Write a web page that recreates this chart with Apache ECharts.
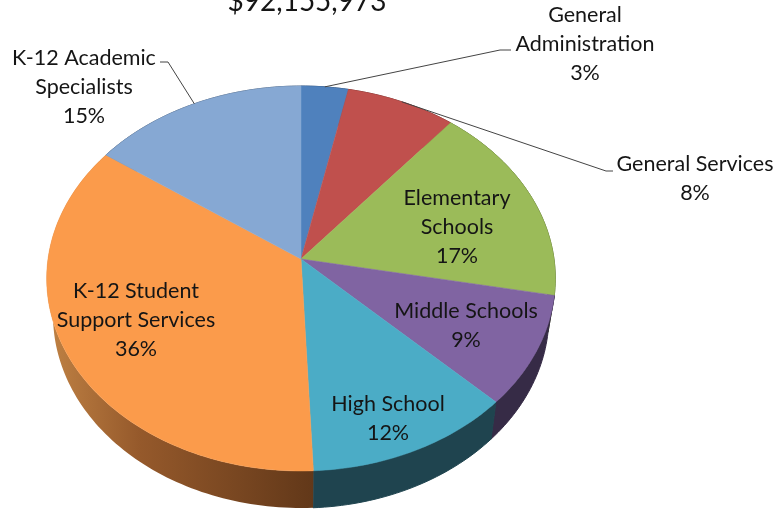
<!DOCTYPE html>
<html>
<head>
<meta charset="utf-8">
<style>html,body{margin:0;padding:0;background:#fff}#c{width:779px;height:510px}</style>
<script src="https://cdn.jsdelivr.net/npm/echarts@6/dist/echarts.min.js"></script>
</head>
<body>
<div id="c"></div>
<script>
// Data
var titleText = '$92,155,973';
var categories = ['General\nAdministration', 'General Services', 'Elementary\nSchools', 'Middle Schools', 'High School', 'K-12 Student\nSupport Services', 'K-12 Academic\nSpecialists'];
var shares = [3.3, 7.7, 17, 9.3, 12, 35.5, 15.2];
var shownPercents = ['3%', '8%', '17%', '9%', '12%', '36%', '15%'];

// Styling and layout (separate from data)
var topColors = ['#4f81bd', '#c0504d', '#9bbb59', '#8064a2', '#4bacc6', '#fb9b4b', '#86a8d3'];
var wallColors = ['#2f4c71', '#73302e', '#5d7035', '#362b46', '#1f444f', null, '#50647e'];
var labelCentres = [[585, 15], [695, 164], [457, 198], [466, 311], [388, 404], [136, 291], [84, 58]];
var leaderEnds = {0: [[500, 50], [511, 50]], 1: [[606, 171], [613, 171]], 6: [[168, 62], [160, 62]]};
var APEX = [301, 259], RX = 253, RY = 190.5, K = 0.1013;
var WALL_SCALE = 0.975, WALL_DROP = 37;

var total = shares.reduce(function (a, b) { return a + b; }, 0);
var startShare = [];
shares.reduce(function (acc, v, i) { startShare[i] = acc; return acc + v; }, 0);

function rimPoint(share, scale, drop) {
  var t = share / total * 2 * Math.PI;
  var d = 1 + K * Math.cos(t);
  return [APEX[0] + scale * RX * Math.sin(t) / d, APEX[1] - RY * Math.cos(t) / d + drop];
}
function arc(from, to, scale, drop) {
  var pts = [], n = Math.max(4, Math.ceil((to - from) * 3));
  for (var i = 0; i <= n; i++) pts.push(rimPoint(from + (to - from) * i / n, scale, drop));
  return pts;
}

var dataRows = shares.map(function (v, i) { return { value: [i, v], name: categories[i] }; });
var xAxisHidden = { type: 'value', show: false, min: 0, max: 779 };
var yAxisHidden = { type: 'value', show: false, min: 0, max: 510 };

function renderWall(params, api) {
  var i = api.value(0), from = startShare[i], to = from + api.value(1);
  var pts = arc(from, to, 1, 0).concat(arc(from, to, WALL_SCALE, WALL_DROP).reverse());
  var fill = wallColors[i] || {
    type: 'linear', x: 0, y: 0, x2: 1, y2: 0,
    colorStops: [{ offset: 0, color: '#c08244' }, { offset: 0.35, color: '#95592b' }, { offset: 1, color: '#623819' }]
  };
  return { type: 'polygon', shape: { points: pts }, style: { fill: fill, stroke: fill === wallColors[i] ? fill : null } };
}
function renderTop(params, api) {
  var i = api.value(0), from = startShare[i], to = from + api.value(1);
  var pts = [APEX].concat(arc(from, to, 1, 0));
  return { type: 'polygon', shape: { points: pts }, style: { fill: topColors[i], stroke: topColors[i], lineWidth: 0.5 } };
}
function renderLabel(params, api) {
  var i = api.value(0), children = [];
  var c = labelCentres[i];
  var lines = categories[i].split('\n').concat(shownPercents[i]);
  lines.forEach(function (line, n) {
    children.push({
      type: 'text',
      style: { text: line, x: c[0], y: c[1] + n * 29, align: 'center', verticalAlign: 'middle', font: '21.5px Lato, "Noto Sans", sans-serif', fill: '#151515' }
    });
  });
  if (leaderEnds[i]) {
    var anchor = rimPoint(startShare[i] + api.value(1) / 2, 1, 0);
    children.push({
      type: 'polyline',
      shape: { points: [anchor].concat(leaderEnds[i]) },
      style: { fill: null, stroke: '#444', lineWidth: 1 }
    });
  }
  return { type: 'group', children: children };
}

var chart = echarts.init(document.getElementById('c'), null, { renderer: 'canvas' });
chart.setOption({
  animation: false,
  backgroundColor: '#fff',
  title: {
    text: titleText, left: 302, top: -17, textAlign: 'center',
    textStyle: { fontFamily: 'Lato, "Noto Sans", sans-serif', fontSize: 28, fontWeight: 'normal', color: '#151515' }
  },
  grid: { left: 0, right: 0, top: 0, bottom: 0 },
  xAxis: xAxisHidden,
  yAxis: yAxisHidden,
  series: [
    { type: 'custom', coordinateSystem: 'cartesian2d', clip: false, silent: true, renderItem: renderWall, data: dataRows, z: 1 },
    { type: 'custom', coordinateSystem: 'cartesian2d', clip: false, silent: true, renderItem: renderTop, data: dataRows, z: 2 },
    { type: 'custom', coordinateSystem: 'cartesian2d', clip: false, silent: true, renderItem: renderLabel, data: dataRows, z: 3 }
  ]
});
</script>
</body>
</html>
